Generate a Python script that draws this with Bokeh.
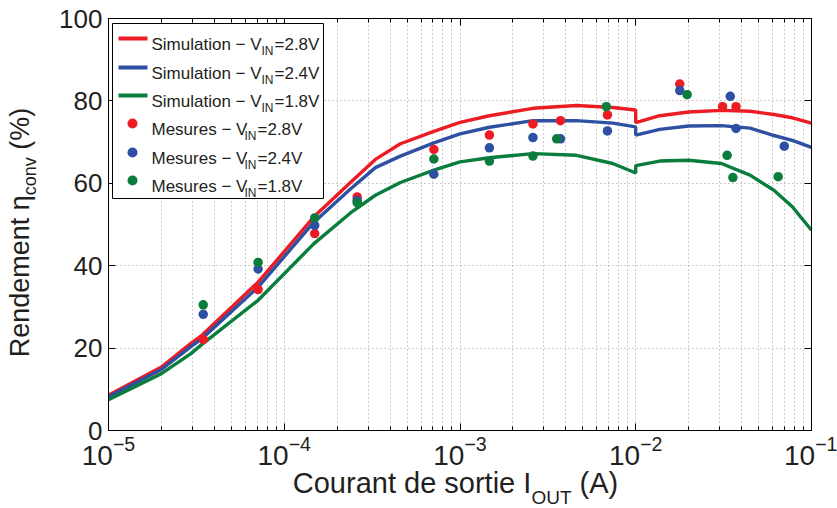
from bokeh.plotting import figure
from bokeh.layouts import row, column
from bokeh.models import (LogAxis, LinearAxis, FixedTicker, Label, BoxAnnotation,
                          CustomJSTickFormatter, Div, Spacer)
from bokeh.embed import file_html
from bokeh.resources import INLINE

# ---------------- data ----------------
sim_x = [1e-5, 2e-5, 2.93e-5, 3.4e-5, 7.1e-5, 1.47e-4, 2.38e-4, 3.3e-4, 4.58e-4,
         7.1e-4, 1e-3, 1.47e-3, 2.6e-3, 4.6e-3, 7.4e-3, 9.99e-3, 1.0e-2, 1.37e-2,
         2.0e-2, 3.07e-2, 4.47e-2, 6.11e-2, 7.78e-2, 1e-1]
sim_28 = [8.6, 15.4, 21.1, 23.1, 36.0, 51.8, 60.2, 65.8, 69.6,
          72.6, 74.8, 76.4, 78.2, 78.9, 78.4, 77.8, 74.7, 76.4,
          77.3, 77.7, 77.5, 76.7, 75.9, 74.6]
sim_24 = [8.2, 14.8, 20.3, 22.3, 34.8, 50.5, 58.6, 63.8, 66.6,
          69.8, 72.0, 73.6, 75.2, 75.2, 74.6, 73.7, 71.7, 73.1,
          73.9, 74.0, 73.4, 71.6, 70.4, 68.7]
sim_18 = [7.5, 13.8, 18.6, 20.9, 31.6, 45.3, 52.8, 57.1, 60.2,
          63.2, 65.2, 66.2, 67.2, 66.8, 64.8, 62.5, 64.3, 65.4,
          65.6, 64.8, 62.0, 58.3, 54.3, 48.6]

mes28_x = [3.46e-5, 7.1e-5, 1.49e-4, 2.6e-4, 7.1e-4, 1.47e-3, 2.6e-3, 3.73e-3, 6.9e-3, 1.78e-2, 3.12e-2, 3.72e-2]
mes28_y = [22.1, 34.2, 47.8, 56.7, 68.2, 71.7, 74.4, 75.2, 76.6, 84.1, 78.6, 78.6]
mes24_x = [3.46e-5, 7.1e-5, 1.49e-4, 2.6e-4, 7.1e-4, 1.47e-3, 2.6e-3, 3.73e-3, 6.9e-3, 1.78e-2, 3.45e-2, 3.72e-2, 7.0e-2]
mes24_y = [28.2, 39.2, 49.8, 55.8, 62.2, 68.6, 71.1, 70.8, 72.7, 82.5, 81.1, 73.3, 69.0]
mes18_x = [3.46e-5, 7.1e-5, 1.49e-4, 2.6e-4, 7.1e-4, 1.47e-3, 2.6e-3, 3.55e-3, 6.8e-3, 1.96e-2, 3.31e-2, 3.57e-2, 6.46e-2]
mes18_y = [30.5, 40.8, 51.6, 55.3, 65.9, 65.4, 66.6, 70.8, 78.6, 81.5, 66.8, 61.4, 61.6]

x_ticks = [1e-5, 1e-4, 1e-3, 1e-2, 1e-1]
y_ticks = [0, 20, 40, 60, 80, 100]

legend_sim = ["Simulation − V", "Simulation − V", "Simulation − V"]
legend_mes = ["Mesures − V", "Mesures − V", "Mesures − V"]
legend_val = ["=2.8V", "=2.4V", "=1.8V"]
x_title = ["Courant de sortie I", "OUT", " (A)"]
y_title = ["Rendement η", "conv", " (%)"]

RED, BLUE, GREEN = "#ED1C24", "#2E50A2", "#0A7D3C"
FONT = "Liberation Sans"
TXT = "#231F20"

minor = [m * d for d in x_ticks[:-1] for m in range(2, 10)]

p = figure(width=789, height=470, x_axis_type="log", x_range=(1e-5, 1e-1),
           y_range=(0, 100), output_backend="svg", toolbar_location=None,
           min_border_left=60, min_border_right=26, min_border_top=18,
           min_border_bottom=40)
p.outline_line_color = "black"
p.outline_line_width = 1

# bottom axis
xa = p.below[0]
xa.ticker = FixedTicker(ticks=x_ticks, minor_ticks=minor)
xa.major_tick_in = 7
xa.major_tick_out = 0
xa.minor_tick_in = 4
xa.minor_tick_out = 0
xa.major_label_text_font = FONT
xa.major_label_text_font_size = "28px"
xa.major_label_text_color = TXT
xa.major_label_standoff = 5
xa.axis_line_color = "black"

ya = p.left[0]
ya.ticker = FixedTicker(ticks=y_ticks)
ya.major_tick_in = 7
ya.major_tick_out = 0
ya.minor_tick_line_color = None
ya.major_label_text_font = FONT
ya.major_label_text_font_size = "26px"
ya.major_label_text_color = TXT
ya.major_label_standoff = 6

blank = CustomJSTickFormatter(code="return ''")
top = LogAxis(ticker=FixedTicker(ticks=x_ticks, minor_ticks=minor), formatter=blank,
              major_tick_in=7, major_tick_out=0, minor_tick_in=4, minor_tick_out=0)
right = LinearAxis(ticker=FixedTicker(ticks=y_ticks), formatter=blank,
                   major_tick_in=7, major_tick_out=0, minor_tick_line_color=None)
p.add_layout(top, "above")
p.add_layout(right, "right")

for g in (p.xgrid[0], p.ygrid[0]):
    g.grid_line_color = "#9a9a9a"
    g.grid_line_dash = "1 3"
    g.grid_line_width = 1
p.xgrid[0].ticker = FixedTicker(ticks=x_ticks, minor_ticks=minor)
p.xgrid[0].minor_grid_line_color = "#9a9a9a"
p.xgrid[0].minor_grid_line_dash = "1 3"
p.ygrid[0].ticker = FixedTicker(ticks=y_ticks)

# curves
p.line(sim_x, sim_28, color=RED, line_width=3.4)
p.line(sim_x, sim_24, color=BLUE, line_width=3.4)
p.line(sim_x, sim_18, color=GREEN, line_width=3.4)
# measurements
p.scatter(mes28_x, mes28_y, size=9.5, color=RED, line_color=None)
p.scatter(mes24_x, mes24_y, size=9.5, color=BLUE, line_color=None)
p.scatter(mes18_x, mes18_y, size=9.5, color=GREEN, line_color=None)

# ---------------- legend (screen units, relative to frame) ----------------
def sbox(l, r, t, b, **kw):
    p.add_layout(BoxAnnotation(left=l, right=r, top=t, bottom=b,
                               left_units="screen", right_units="screen",
                               top_units="screen", bottom_units="screen", **kw))

def lab(x, y, t, size):
    p.add_layout(Label(x=x, y=y, x_units="screen", y_units="screen", text=t,
                       text_font=FONT, text_font_size=size, text_color=TXT,
                       text_baseline="alphabetic", text_align="left"))

sbox(4, 215, 407, 232, fill_color="white", fill_alpha=1, line_color="black",
     line_width=1, line_alpha=1)
row_y = [392, 363, 335, 307, 278, 250]
cols = [RED, BLUE, GREEN]
for i in range(3):
    yy = row_y[i]
    sbox(10, 39, yy + 2, yy - 2, fill_color=cols[i], fill_alpha=1, line_color=None)
    lab(43, yy - 6, legend_sim[i], "17px")
    lab(153, yy - 12, "IN", "12px")
    lab(166, yy - 6, legend_val[i], "17px")
for i in range(3):
    yy = row_y[i + 3]
    sbox(19, 29, yy + 5, yy - 5, border_radius=5,
         fill_color=cols[i], fill_alpha=1, line_color=None)
    lab(43, yy - 6, legend_mes[i], "17px")
    lab(136, yy - 12, "IN", "12px")
    lab(149, yy - 6, legend_val[i], "17px")

# ---------------- axis titles (HTML, with real subscripts) ----------------
base = f"font-family:'{FONT}';color:{TXT};line-height:1;white-space:nowrap;"
ytxt = (f'<div style="width:42px;height:464px;display:flex;align-items:center;'
        f'justify-content:center;overflow:visible">'
        f'<div style="{base}font-size:27px;transform:rotate(-90deg)">{y_title[0]}'
        f'<span style="font-size:18px;position:relative;top:7px">{y_title[1]}</span>'
        f'{y_title[2]}</div></div>')
ydiv = Div(text=ytxt, width=48, height=470, margin=0)

xtxt = (f'<div style="{base}font-size:29px;text-align:center;width:703px;'
        f'margin-top:-1px;position:relative;left:-4px">'
        f'{x_title[0]}<span style="font-size:19px;position:relative;top:11px">{x_title[1]}</span>'
        f'{x_title[2]}</div>')
xdiv = Div(text=xtxt, width=703, height=38, margin=0)

layout = column(row(ydiv, p), row(Spacer(width=108, height=38), xdiv,
                                  Spacer(width=26, height=38)))

open("out.html", "w").write(file_html(layout, INLINE))
